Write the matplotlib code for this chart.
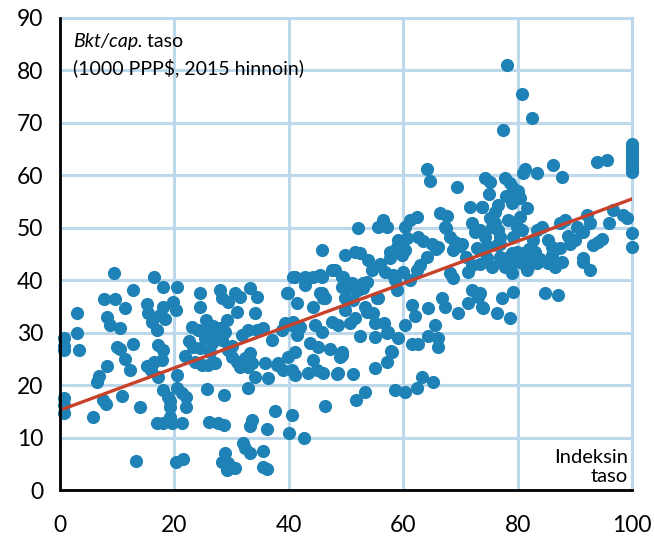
import matplotlib.pyplot as plt

# index level (x) and GDP per capita, 1000 PPP$ (y)
index_x = [
    0.7, 0.7, 0.7, 0.7, 0.7, 0.7, 3.0, 3.0, 3.3,
    5.7, 6.4, 6.8, 7.6, 8.0, 8.3, 8.3, 7.7, 8.8, 9.4, 9.6, 10.5, 11.3,
    10.0, 10.5, 11.4, 10.9, 12.2, 12.7, 12.8, 14.0, 13.3,
    15.2, 15.4, 16.0, 16.4, 17.0, 18.0, 18.0, 17.5, 18.4, 15.2, 15.9,
    16.4, 17.2, 17.2, 18.0, 17.8, 18.0, 18.9, 17.0, 18.0, 19.2, 19.2,
    19.6, 19.8, 20.3, 20.5, 20.4, 20.4, 21.3, 21.3, 22.0, 22.0, 20.3, 21.5,
    24.5, 24.5, 28.0, 28.3, 29.4, 30.6, 31.5, 33.2, 34.4, 31.0, 34.1,
    25.5, 29.2, 24.1, 25.3, 27.1, 28.0, 28.8, 31.8, 32.9, 34.4, 35.5,
    37.1, 25.3, 26.6, 28.3, 24.5, 26.2, 29.4, 30.1, 31.0, 32.3, 33.2,
    33.6, 23.6, 24.8, 25.9, 27.1, 31.5, 32.9, 35.8, 34.1, 36.4, 25.7,
    28.7, 32.9, 37.6, 26.0, 27.6, 28.7, 33.6, 33.2, 36.2, 40.6, 40.0,
    42.7, 32.0, 32.3, 33.2, 35.5, 28.8, 28.3, 29.4, 30.6, 35.5, 36.2,
    29.2, 37.9, 22.5, 23.0, 21.8, 23.2, 26.8, 27.5, 30.0, 19.2,
    39.9, 41.4, 40.7, 41.1, 42.8, 44.2, 45.8, 47.6, 42.8, 45.8, 46.3,
    44.2, 39.3, 40.7, 42.0, 44.6, 45.8, 47.6, 38.8, 41.4, 43.7, 45.1,
    47.2, 41.1, 39.9, 38.1, 39.0, 40.6, 41.1, 43.4, 44.2, 44.9, 46.0,
    48.4, 49.3, 46.3, 45.8, 45.5, 49.5, 50.7, 52.1, 53.0, 49.8, 45.5,
    46.0, 39.7, 40.5,
    52.1, 55.6, 56.5, 57.2, 60.3, 61.2, 62.4, 66.4, 67.7, 71.7, 73.8,
    67.3, 72.0, 72.6, 59.1, 60.7, 62.6, 57.7, 58.9, 60.3, 59.8, 57.7,
    49.8, 51.6, 52.4, 53.8, 64.2, 65.0, 66.1, 68.2, 69.0, 68.7, 70.3,
    72.9, 72.0, 71.3, 62.9, 62.4, 56.8, 58.2, 60.0, 58.6, 61.2, 58.9,
    68.2, 68.7, 49.3, 49.3, 51.0, 51.9, 53.7, 53.0, 55.4, 51.2, 53.3,
    49.8, 53.7, 54.7, 51.6, 50.7, 48.6, 55.1, 56.6, 61.5, 62.1, 64.3,
    66.8, 67.3, 69.6, 71.3, 72.0, 73.1, 73.8, 65.6, 60.3, 57.3, 59.1,
    52.4, 55.1, 61.5, 62.6, 64.3, 66.1, 66.1, 49.3, 49.0, 58.0, 57.2,
    55.1, 48.6, 51.2, 63.3, 65.2, 62.4, 58.6, 60.3, 53.3, 51.7, 48.1,
    57.9, 57.2, 55.6, 67.5, 70.0, 71.0, 54.5, 56.0, 63.5, 65.8,
    77.4, 78.1, 80.8, 82.5, 64.2, 64.7, 69.4,
    100, 100, 100, 100, 100, 100, 100, 100, 100,
    93.9, 95.6, 86.2, 87.8, 81.3, 81.0, 83.4, 74.3, 75.2, 77.8, 78.7,
    79.2, 80.1, 79.2, 80.4, 79.0, 73.8, 76.6, 76.0, 75.2, 78.3, 81.6,
    73.4, 75.5, 76.6, 79.9, 80.8, 74.3, 76.9, 79.2, 83.4, 84.3, 87.4,
    88.3, 90.4, 91.4, 92.1, 92.7, 96.7, 99.1, 100, 100, 76.4, 82.7,
    85.3, 86.0, 87.4, 89.2, 90.0, 93.2, 94.0, 94.8, 73.4, 74.6, 75.5,
    76.9, 78.1, 79.0, 79.9, 81.0, 82.2, 83.0, 79.2, 80.8, 81.8, 83.4,
    77.8, 79.0, 81.6, 85.3, 86.5, 87.8, 91.4, 92.7, 73.4, 77.3, 79.2,
    73.9, 76.4, 78.7, 84.8, 87.1, 73.4, 76.9, 74.6, 91.4, 77.0, 82.0,
    84.0, 86.0, 88.8, 96.0, 98.5, 75.0, 78.0, 80.5, 76.0,
]
gdp_y = [
    29.0, 26.7, 27.5, 17.5, 16.2, 14.7, 33.7, 30.0, 26.7,
    13.9, 20.6, 21.7, 17.1, 16.4, 23.6, 33.0, 36.5, 31.4, 41.3, 36.5, 30.8, 34.7,
    27.3, 26.8, 24.9, 17.9, 22.8, 38.1, 27.8, 15.8, 5.5,
    35.4, 33.7, 32.0, 40.6, 30.5, 38.7, 34.9, 33.3, 32.6, 23.6, 22.9,
    24.4, 21.5, 27.6, 26.7, 24.8, 19.0, 17.7, 12.8, 12.8, 15.8, 13.9,
    12.8, 35.8, 34.3, 38.7, 21.9, 19.4, 18.5, 12.8, 17.7, 15.8, 5.3, 5.9,
    37.5, 34.9, 38.1, 36.6, 35.8, 37.5, 36.8, 38.5, 36.8, 33.9, 33.7,
    32.4, 32.4, 30.5, 30.1, 30.5, 30.9, 30.1, 29.5, 30.5, 30.5, 30.9,
    28.6, 28.9, 28.0, 28.6, 27.0, 26.3, 26.7, 25.3, 24.4, 25.1, 26.1,
    24.2, 24.4, 23.8, 23.8, 24.2, 23.4, 23.4, 24.2, 21.5, 21.3, 19.2,
    18.1, 19.4, 15.0, 12.9, 12.8, 12.4, 13.3, 12.2, 11.6, 14.3, 10.9,
    9.9, 8.9, 8.0, 7.1, 7.4, 7.0, 5.3, 5.1, 4.2, 4.4, 4.0,
    3.8, 23.8, 28.5, 31.0, 25.5, 27.2, 31.2, 29.0, 27.5, 17.0,
    37.5, 35.6, 40.6, 40.6, 40.6, 40.6, 40.6, 41.9, 39.0, 37.5, 36.6,
    34.9, 31.8, 32.0, 31.0, 31.4, 30.1, 32.0, 30.5, 29.5, 28.0, 27.3,
    26.8, 26.3, 25.3, 24.2, 22.9, 22.9, 21.9, 22.3, 24.8, 22.9, 22.3,
    22.1, 25.7, 16.0, 45.7, 41.0, 40.6, 38.7, 38.1, 39.4, 36.6, 37.5,
    36.6, 37.5, 31.4,
    49.9, 50.1, 51.4, 50.1, 50.1, 51.4, 52.0, 52.8, 52.2, 53.9, 53.9,
    50.1, 51.0, 49.1, 47.6, 48.0, 48.2, 45.3, 46.3, 45.7, 44.8, 44.2,
    44.8, 45.3, 45.1, 43.8, 44.4, 47.0, 46.3, 48.2, 47.2, 45.7, 47.0,
    46.1, 42.9, 41.5, 42.9, 41.9, 41.5, 41.0, 41.5, 40.0, 40.0, 38.1,
    41.3, 40.4, 40.6, 38.7, 39.4, 38.5, 39.6, 38.5, 36.6, 36.2, 34.9,
    34.3, 33.9, 33.7, 32.8, 31.8, 31.4, 31.8, 31.8, 35.2, 33.1, 34.7,
    36.6, 34.9, 33.7, 35.6, 38.1, 36.8, 34.9, 31.4, 31.4, 30.1, 28.9,
    29.3, 29.1, 27.8, 27.8, 29.3, 28.9, 27.3, 26.3, 25.3, 26.3, 24.4,
    23.2, 22.3, 22.1, 21.5, 20.6, 19.4, 19.0, 18.7, 18.7, 17.1, 41.9,
    26.5, 29.9, 36.6, 49.9, 46.5, 44.5, 42.0, 43.0, 47.5, 46.0,
    68.6, 81.1, 75.6, 70.9, 61.3, 59.0, 57.7,
    66.0, 65.2, 64.4, 63.6, 63.0, 62.4, 61.6, 61.0, 60.6,
    62.5, 63.0, 61.9, 59.6, 61.3, 60.4, 60.4, 59.4, 58.7, 59.4, 58.5,
    57.5, 57.1, 55.8, 55.6, 54.7, 53.9, 54.3, 53.0, 51.8, 51.4, 53.7,
    49.5, 50.1, 49.5, 50.1, 49.5, 48.2, 48.2, 48.2, 49.5, 50.1, 50.9,
    51.4, 50.1, 49.1, 52.4, 50.9, 53.3, 51.8, 49.0, 46.3, 46.7, 47.6,
    47.6, 46.3, 46.1, 47.0, 47.6, 46.7, 47.2, 47.8, 45.7, 44.2, 42.5,
    43.4, 44.2, 45.1, 45.3, 45.1, 44.4, 45.3, 43.2, 43.2, 42.5, 43.2,
    42.5, 41.3, 41.9, 43.2, 42.5, 43.4, 44.2, 41.9, 37.5, 36.6, 37.7,
    34.7, 33.7, 32.8, 37.5, 37.1, 43.0, 44.5, 46.5, 43.4, 47.0, 46.0,
    44.0, 44.8, 48.5, 51.0, 52.5, 56.5, 56.0, 52.0, 51.0,
]

# linear trend line
trend_x = [0.7, 100]
trend_y = [15.5, 55.5]

x_ticks = [0, 20, 40, 60, 80, 100]
y_ticks = [0, 10, 20, 30, 40, 50, 60, 70, 80, 90]

plt.rcParams['font.family'] = ['Lato', 'DejaVu Sans']

fig = plt.figure(figsize=(6.54, 5.37), dpi=100)
ax = fig.add_axes([0.0917, 0.0875, 0.8747, 0.879])

ax.scatter(index_x, gdp_y, s=90, color='#1f82b6', linewidths=0,
           zorder=3, clip_on=False)
ax.plot(trend_x, trend_y, color='#c8412a', lw=2.4, zorder=4)

ax.set_xlim(0, 100)
ax.set_ylim(0, 90)
ax.set_xticks(x_ticks)
ax.set_yticks(y_ticks)
ax.tick_params(length=0, labelsize=16.5, colors='black')
ax.tick_params(axis='x', pad=18)
ax.tick_params(axis='y', pad=12)

ax.grid(True, color='#bdd8ea', lw=2.2, zorder=0)
ax.set_axisbelow(True)
for side in ['top', 'right']:
    ax.spines[side].set_color('#bdd8ea')
    ax.spines[side].set_linewidth(2.2)
for side in ['left', 'bottom']:
    ax.spines[side].set_color('black')
    ax.spines[side].set_linewidth(2)
    ax.spines[side].set_zorder(5)

t1 = ax.text(2.2, 85.5, 'Bkt/cap.', fontsize=14, style='italic', va='center')
ax.annotate(' taso', xy=(1, 0.5), xycoords=t1, fontsize=14, va='center')
ax.text(2.2, 80.5, '(1000 PPP$, 2015 hinnoin)', fontsize=14, va='center')
ax.text(99.3, 1.0, 'Indeksin\ntaso', fontsize=14.5, ha='right', va='bottom',
        linespacing=1.1)

fig.savefig('out.png', dpi=100)
